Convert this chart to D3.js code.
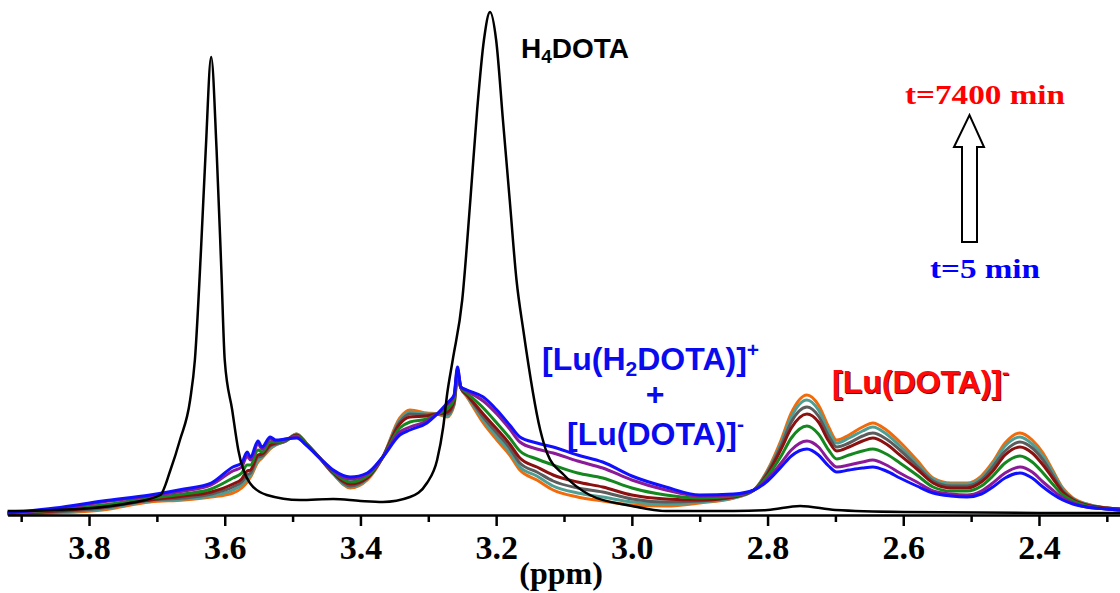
<!DOCTYPE html>
<html>
<head>
<meta charset="utf-8">
<script src="https://cdn.jsdelivr.net/npm/d3@7"></script>
<style>
  body { margin: 0; background: #fff; }
  svg { display: block; }
</style>
</head>
<body>
<div id="chart"></div>
<script>
/* 1H NMR spectra — H4DOTA reference + Lu complex time series */

// ppm grid shared by the time series
const seriesPpm = [3.92, 3.85, 3.78, 3.71, 3.66, 3.62, 3.588, 3.575, 3.567, 3.562, 3.551, 3.545, 3.533, 3.525, 3.51,
  3.494, 3.48, 3.46, 3.44, 3.415, 3.39, 3.367, 3.342, 3.327, 3.302, 3.287, 3.272, 3.262, 3.257, 3.252,
  3.243, 3.219, 3.199, 3.18, 3.165, 3.14, 3.116, 3.08, 3.043, 3.0, 2.95, 2.90, 2.85, 2.82, 2.80,
  2.78, 2.765, 2.742, 2.725, 2.71, 2.698, 2.68, 2.66, 2.645, 2.625, 2.605, 2.58, 2.556, 2.53, 2.506,
  2.485, 2.468, 2.45, 2.428, 2.41, 2.394, 2.38, 2.365, 2.35, 2.33, 2.30, 2.28];

// intensities (arb. units), t = 5 min first
const blueT5 = [2, 7, 14, 20, 26, 32, 48, 52, 63, 58, 74, 68, 78, 75, 76,
  77, 70, 57, 45, 38, 42, 58, 80, 85, 92, 101, 112, 120, 148, 128,
  125, 118, 105, 90, 78, 72, 68, 60, 53, 39, 28, 20, 21, 25, 34,
  48, 59, 66, 60, 49, 43, 45, 47, 48, 44, 37, 29, 22, 19, 18,
  21, 28, 37, 42, 37, 28, 21, 15, 11, 8, 6, 5];
const purpleT = [2, 6, 13, 19, 24, 30, 44, 48, 59, 55, 71, 66, 76, 74, 76,
  78, 70, 57, 44, 36, 41, 58, 83, 88, 94, 101, 110, 119, 146, 128,
  124, 114, 101, 86, 73, 66, 62, 54, 47, 35, 25, 19, 20, 25, 36,
  52, 65, 74, 68, 55, 48, 50, 53, 55, 50, 42, 33, 24, 21, 20,
  24, 32, 42, 48, 43, 33, 25, 17, 12, 8, 6, 5];
const greenT = [2, 5, 10, 17, 21, 26, 37, 42, 50, 50, 65, 63, 73, 73, 75,
  79, 71, 57, 43, 33, 39, 58, 87, 93, 96, 101, 106, 116, 143, 128,
  122, 107, 92, 77, 64, 56, 50, 42, 37, 27, 20, 17, 19, 25, 39,
  59, 77, 89, 81, 65, 56, 60, 64, 66, 61, 52, 40, 28, 24, 24,
  29, 39, 52, 59, 53, 42, 31, 20, 14, 9, 6, 5];
const maroonT = [1, 4, 8, 15, 19, 23, 31, 36, 44, 45, 60, 61, 70, 72, 75,
  80, 71, 57, 42, 31, 37, 58, 91, 98, 99, 101, 103, 114, 141, 127,
  120, 101, 86, 71, 57, 48, 40, 33, 28, 20, 16, 15, 18, 25, 41,
  66, 87, 101, 93, 74, 64, 68, 74, 77, 71, 60, 46, 32, 27, 27,
  33, 44, 60, 68, 62, 50, 37, 23, 15, 10, 7, 6];
const grayT = [1, 3, 7, 15, 17, 21, 28, 33, 40, 42, 58, 59, 69, 71, 74,
  80, 72, 57, 42, 29, 37, 58, 93, 101, 100, 101, 101, 112, 139, 127,
  120, 98, 82, 67, 52, 43, 34, 27, 23, 16, 13, 14, 18, 25, 43,
  69, 93, 108, 99, 79, 68, 72, 79, 82, 76, 65, 49, 34, 29, 29,
  35, 48, 64, 73, 67, 55, 40, 24, 16, 10, 7, 6];
const tealT = [1, 3, 6, 14, 16, 19, 25, 30, 36, 40, 55, 58, 67, 70, 74,
  81, 72, 57, 41, 28, 36, 58, 95, 103, 101, 101, 99, 111, 138, 127,
  119, 95, 78, 63, 48, 39, 29, 22, 18, 13, 11, 13, 17, 25, 44,
  72, 98, 115, 105, 84, 72, 77, 84, 88, 81, 69, 52, 36, 31, 31,
  37, 51, 69, 78, 71, 59, 43, 26, 16, 11, 7, 6];
const orangeT7400 = [1, 2, 5, 13, 15, 18, 22, 27, 33, 38, 53, 57, 66, 70, 74,
  81, 72, 57, 41, 27, 35, 58, 97, 105, 102, 101, 98, 110, 137, 127,
  118, 92, 75, 60, 45, 35, 25, 18, 14, 10, 9, 12, 17, 25, 45,
  75, 102, 120, 110, 88, 75, 80, 88, 92, 85, 73, 55, 37, 32, 32,
  39, 53, 72, 82, 75, 62, 45, 27, 17, 11, 7, 6];

// H4DOTA reference spectrum
const dotaPpm = [3.92, 3.85, 3.78, 3.74, 3.695, 3.68, 3.666, 3.651, 3.644, 3.635, 3.628, 3.62, 3.612, 3.605, 3.600,
  3.589, 3.58, 3.563, 3.538, 3.489, 3.44, 3.40, 3.367, 3.327, 3.302, 3.287, 3.278, 3.272, 3.264, 3.25,
  3.238, 3.228, 3.218, 3.209, 3.20, 3.19, 3.18, 3.17, 3.16, 3.135, 3.125, 3.10, 3.062, 3.0, 2.95,
  2.85, 2.80, 2.752, 2.70, 2.60, 2.40, 2.28];
const dotaI = [4, 5, 8, 12, 20, 45, 75, 115, 155, 265, 365, 458, 365, 245, 155,
  105, 65, 32, 20, 15, 16, 14, 13, 18, 32, 55, 88, 122, 155, 215,
  315, 405, 475, 503, 475, 395, 315, 235, 185, 85, 62, 40, 20, 9, 4,
  4, 5, 9, 5, 3, 2, 2];

const majorTicks = [3.8, 3.6, 3.4, 3.2, 3.0, 2.8, 2.6, 2.4];
const minorTicks = [3.9, 3.7, 3.5, 3.3, 3.1, 2.9, 2.7, 2.5, 2.3];

// drawing order: last time point underneath, first on top
const series = [
  { values: orangeT7400, color: '#f26a0a' },
  { values: tealT, color: '#4f9e94' },
  { values: grayT, color: '#5c5c5c' },
  { values: maroonT, color: '#8b1010' },
  { values: greenT, color: '#14881e' },
  { values: purpleT, color: '#8a1a98' },
  { values: blueT5, color: '#1010ff' }
];

const width = 1120;
const height = 593;
const axisY = 515;

const svg = d3.select('#chart')
  .append('svg')
  .attr('width', width)
  .attr('height', height)
  .style('background', '#fff');

const x = d3.scaleLinear().domain([3.92, 2.28]).range([7.6, 1120.4]);
const y = d3.scaleLinear().domain([0, 500]).range([axisY, axisY - 500]);

const line = d3.line()
  .x(d => x(d[0]))
  .y(d => y(d[1]))
  .curve(d3.curveMonotoneX);

// spectra
svg.append('g')
  .selectAll('path')
  .data(series)
  .join('path')
  .attr('d', s => line(seriesPpm.map((p, i) => [p, s.values[i]])))
  .attr('fill', 'none')
  .attr('stroke', s => s.color)
  .attr('stroke-width', 3)
  .attr('stroke-linejoin', 'round');

svg.append('path')
  .attr('d', line(dotaPpm.map((p, i) => [p, dotaI[i]])))
  .attr('fill', 'none')
  .attr('stroke', '#000')
  .attr('stroke-width', 2.5)
  .attr('stroke-linejoin', 'round');

// x axis
const minorAxis = svg.append('g')
  .attr('transform', `translate(0,${axisY})`)
  .call(d3.axisBottom(x).tickValues(minorTicks).tickSize(7).tickSizeOuter(0).tickFormat(''));

const majorAxis = svg.append('g')
  .attr('transform', `translate(0,${axisY})`)
  .call(d3.axisBottom(x).tickValues(majorTicks).tickSize(11).tickSizeOuter(0).tickFormat(d3.format('.1f')));

[minorAxis, majorAxis].forEach(g => {
  g.select('.domain').attr('stroke', '#000').attr('stroke-width', 2.5);
  g.selectAll('.tick line').attr('stroke', '#000').attr('stroke-width', 2.5);
});
minorAxis.select('.domain').remove();

majorAxis.selectAll('.tick text')
  .attr('y', 44)
  .attr('dy', 0)
  .attr('fill', '#000')
  .style('font-family', '"Liberation Serif", "Times New Roman", serif')
  .style('font-weight', 'bold')
  .style('font-size', '34px');

svg.append('text')
  .attr('x', 561)
  .attr('y', 584)
  .attr('text-anchor', 'middle')
  .style('font-family', '"Liberation Serif", "Times New Roman", serif')
  .style('font-weight', 'bold')
  .style('font-size', '32px')
  .text('(ppm)');

// annotations
const sans = '"Liberation Sans", Arial, sans-serif';
const serif = '"Liberation Serif", "Times New Roman", serif';

const h4 = svg.append('text')
  .attr('x', 521).attr('y', 58)
  .style('font-family', sans).style('font-weight', 'bold').style('font-size', '28px');
h4.append('tspan').text('H');
h4.append('tspan').attr('dy', 5).style('font-size', '19px').text('4');
h4.append('tspan').attr('dy', -5).text('DOTA');

svg.append('text')
  .attr('x', 905).attr('y', 104)
  .attr('textLength', 160).attr('lengthAdjust', 'spacingAndGlyphs')
  .attr('fill', '#ff0000')
  .style('font-family', serif).style('font-weight', 'bold').style('font-size', '27px')
  .text('t=7400 min');

svg.append('text')
  .attr('x', 930).attr('y', 278)
  .attr('textLength', 110).attr('lengthAdjust', 'spacingAndGlyphs')
  .attr('fill', '#0000ff')
  .style('font-family', serif).style('font-weight', 'bold').style('font-size', '27px')
  .text('t=5 min');

// hollow arrow
svg.append('path')
  .attr('d', 'M962,242 L977,242 L977,147 L984,147 L969.5,115 L954,147 L962,147 Z')
  .attr('fill', '#fff')
  .attr('stroke', '#000')
  .attr('stroke-width', 2);

const lu1 = svg.append('text')
  .attr('x', 542).attr('y', 370).attr('fill', '#0a0aef')
  .style('font-family', sans).style('font-weight', 'bold').style('font-size', '32px');
lu1.append('tspan').text('[Lu(H');
lu1.append('tspan').attr('dy', 6).style('font-size', '21px').text('2');
lu1.append('tspan').attr('dy', -6).text('DOTA)]');
lu1.append('tspan').attr('dy', -13).style('font-size', '21px').text('+');

svg.append('text')
  .attr('x', 655).attr('y', 405).attr('text-anchor', 'middle').attr('fill', '#0a0aef')
  .style('font-family', sans).style('font-weight', 'bold').style('font-size', '32px')
  .text('+');

const lu2 = svg.append('text')
  .attr('x', 567).attr('y', 445).attr('fill', '#0a0aef')
  .style('font-family', sans).style('font-weight', 'bold').style('font-size', '32px');
lu2.append('tspan').text('[Lu(DOTA)]');
lu2.append('tspan').attr('dy', -14).style('font-size', '21px').text('-');

// red label with a dark drop shadow
[{ dx: 1, color: '#6a0000' }, { dx: 0, color: '#ff0a0a' }].forEach(layer => {
  const t = svg.append('text')
    .attr('x', 832 + layer.dx).attr('y', 393 + layer.dx).attr('fill', layer.color)
    .style('font-family', sans).style('font-weight', 'bold').style('font-size', '32px');
  t.append('tspan').text('[Lu(DOTA)]');
  t.append('tspan').attr('dy', -14).style('font-size', '21px').text('-');
});
</script>
</body>
</html>
